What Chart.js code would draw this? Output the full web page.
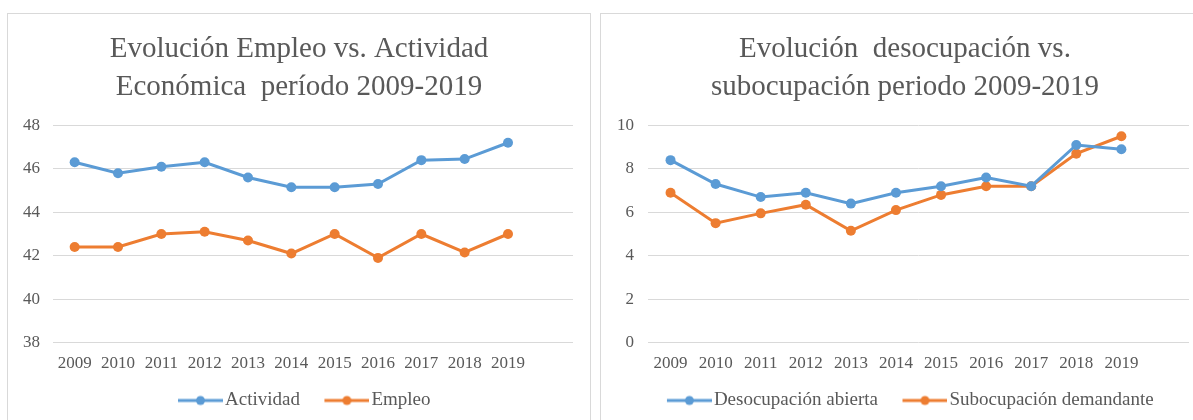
<!DOCTYPE html>
<html>
<head>
<meta charset="utf-8">
<script src="https://cdn.jsdelivr.net/npm/chart.js@4"></script>
<style>
    body { margin: 0; background: #fff; overflow: hidden; }
    .box { position: absolute; border: 1px solid #d9d9d9; background: #fff; }
    #leftBox { left: 7px; top: 13px; width: 582px; height: 420px; }
    #rightBox { left: 600px; top: 13px; width: 608px; height: 420px; }
    canvas { display: block; }
</style>
</head>
<body>
<div class="box" id="leftBox"><canvas id="empleoChart" width="582" height="406"></canvas></div>
<div class="box" id="rightBox"><canvas id="desocupacionChart" width="608" height="406"></canvas></div>
<script>
// Data
const years = ['2009', '2010', '2011', '2012', '2013', '2014', '2015', '2016', '2017', '2018', '2019', ''];

const actividad = [46.3, 45.8, 46.1, 46.3, 45.6, 45.15, 45.15, 45.3, 46.4, 46.45, 47.2];
const empleo = [42.4, 42.4, 43.0, 43.1, 42.7, 42.1, 43.0, 41.9, 43.0, 42.15, 43.0];

const desocupacion = [8.4, 7.3, 6.7, 6.9, 6.4, 6.9, 7.2, 7.6, 7.2, 9.1, 8.9];
const subocupacion = [6.9, 5.5, 5.95, 6.35, 5.15, 6.1, 6.8, 7.2, 7.2, 8.7, 9.5];

const BLUE = '#5B9BD5';
const ORANGE = '#ED7D31';
const TEXT = '#595959';
const SERIF = '"Liberation Serif", "Times New Roman", serif';

// legend marker: a short line with a dot, like Excel
// (transparent strip on the left to space the legend items)
function legendMarker(color) {
    const c = document.createElement('canvas');
    c.width = 63;
    c.height = 12;
    const g = c.getContext('2d');
    g.strokeStyle = color;
    g.lineWidth = 3;
    g.beginPath();
    g.moveTo(18, 6);
    g.lineTo(63, 6);
    g.stroke();
    g.fillStyle = color;
    g.beginPath();
    g.arc(40.5, 6, 4.5, 0, Math.PI * 2);
    g.fill();
    return c;
}

function makeDataset(label, data, color) {
    return {
        label: label,
        data: data,
        borderColor: color,
        backgroundColor: color,
        borderWidth: 3,
        pointRadius: 5,
        pointHoverRadius: 5,
        pointBackgroundColor: color,
        pointBorderWidth: 0,
        tension: 0,
        yAxisID: 'y'
    };
}

function makeChart(id, titleLines, datasets, yMin, yMax, yWidth, yPad, rightGap) {
    const ctx = document.getElementById(id).getContext('2d');
    return new Chart(ctx, {
        type: 'line',
        data: {
            labels: years,
            datasets: datasets
        },
        options: {
            responsive: false,
            animation: false,
            layout: { padding: 0 },
            plugins: {
                title: {
                    display: true,
                    text: titleLines,
                    color: TEXT,
                    font: { family: SERIF, size: 29, weight: 'normal', lineHeight: 1.3 },
                    padding: { top: 17, bottom: 19 }
                },
                legend: {
                    position: 'bottom',
                    labels: {
                        color: TEXT,
                        font: { family: SERIF, size: 19 },
                        usePointStyle: true,
                        pointStyleWidth: 48,
                        padding: 14,
                        generateLabels: chart => chart.data.datasets.map((ds, i) => ({
                            text: ds.label,
                            fontColor: TEXT,
                            pointStyle: legendMarker(ds.borderColor),
                            strokeStyle: ds.borderColor,
                            fillStyle: ds.borderColor,
                            lineWidth: 0,
                            datasetIndex: i
                        }))
                    }
                },
                tooltip: { enabled: false }
            },
            scales: {
                x: {
                    offset: true,
                    grid: { display: false },
                    border: { display: false },
                    ticks: {
                        color: TEXT,
                        font: { family: SERIF, size: 17 },
                        maxRotation: 0,
                        autoSkip: false,
                        padding: 3
                    }
                },
                y: {
                    min: yMin,
                    max: yMax,
                    afterFit: scale => { scale.width = yWidth; },
                    grid: { color: '#d9d9d9', lineWidth: 1, drawTicks: false },
                    border: { display: false },
                    ticks: {
                        stepSize: 2,
                        color: TEXT,
                        font: { family: SERIF, size: 17 },
                        padding: yPad
                    }
                },
                // empty axis: keeps the blank margin right of the plot
                gap: {
                    position: 'right',
                    afterFit: scale => { scale.width = rightGap; },
                    grid: { display: false },
                    border: { display: false },
                    ticks: { display: false }
                }
            }
        }
    });
}

makeChart('empleoChart',
    ['Evolución Empleo vs. Actividad', 'Económica  período 2009-2019'],
    [makeDataset('Actividad', actividad, BLUE), makeDataset('Empleo', empleo, ORANGE)],
    38, 48, 45, 13, 17);

makeChart('desocupacionChart',
    ['Evolución  desocupación vs.', 'subocupación periodo 2009-2019'],
    [makeDataset('Desocupación abierta', desocupacion, BLUE), makeDataset('Subocupación demandante', subocupacion, ORANGE)],
    0, 10, 47, 14, 20);
</script>
</body>
</html>
